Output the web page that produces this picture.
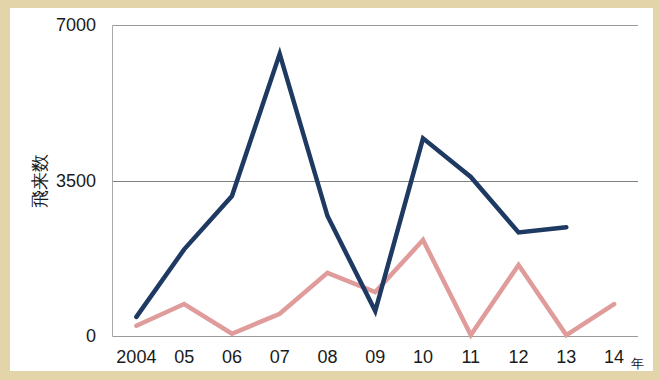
<!DOCTYPE html>
<html>
<head>
<meta charset="utf-8">
<script src="https://cdn.jsdelivr.net/npm/d3@7"></script>
<style>
  html, body { margin: 0; padding: 0; background: #e3d5a9; }
  svg { display: block; }
  text { font-family: "Liberation Sans", Arial, sans-serif; fill: #1a1a1a; }
</style>
</head>
<body>
<div id="chart"></div>
<script>
const years = ["2004", "05", "06", "07", "08", "09", "10", "11", "12", "13", "14"];
const seriesNavy = [430, 1950, 3150, 6350, 2700, 560, 4450, 3580, 2330, 2450, null];
const seriesPink = [230, 720, 50, 500, 1420, 990, 2160, 20, 1600, 20, 720];
const yTicks = [0, 3500, 7000];

const w = 660;
const h = 380;
const plot = { left: 112.5, right: 638, top: 25, bottom: 336 };

const svg = d3
  .select("#chart")
  .append("svg")
  .attr("width", w)
  .attr("height", h);

svg
  .append("rect")
  .attr("x", 10)
  .attr("y", 8)
  .attr("width", 643)
  .attr("height", 363)
  .attr("fill", "white");

const xScale = d3
  .scaleBand()
  .domain(years)
  .range([plot.left, plot.right])
  .padding(0);

const yScale = d3
  .scaleLinear()
  .domain([0, 7000])
  .range([plot.bottom, plot.top]);

const cx = (d) => xScale(d) + xScale.bandwidth() / 2;

// gridlines
svg
  .selectAll("line.grid")
  .data(yTicks)
  .enter()
  .append("line")
  .attr("class", "grid")
  .attr("x1", plot.left)
  .attr("x2", plot.right)
  .attr("y1", (d) => Math.round(yScale(d)) + 0.5)
  .attr("y2", (d) => Math.round(yScale(d)) + 0.5)
  .attr("stroke", (d) => (d === 3500 ? "#808080" : "#9a9a9a"))
  .attr("stroke-width", 1);

// left axis line
svg
  .append("line")
  .attr("x1", plot.left)
  .attr("x2", plot.left)
  .attr("y1", Math.round(yScale(7000)) + 0.5)
  .attr("y2", Math.round(yScale(0)) + 0.5)
  .attr("stroke", "#aaaaaa")
  .attr("stroke-width", 1);

// y tick labels
svg
  .selectAll("text.ytick")
  .data(yTicks)
  .enter()
  .append("text")
  .attr("class", "ytick")
  .attr("x", 96)
  .attr("y", (d) => yScale(d))
  .attr("dy", "0.35em")
  .attr("text-anchor", "end")
  .attr("font-size", 18)
  .text((d) => d);

// x tick labels
svg
  .selectAll("text.xtick")
  .data(years)
  .enter()
  .append("text")
  .attr("class", "xtick")
  .attr("x", cx)
  .attr("y", 363)
  .attr("text-anchor", "middle")
  .attr("font-size", 18)
  .text((d) => d);

// unit
svg
  .append("text")
  .attr("x", 637)
  .attr("y", 368)
  .attr("text-anchor", "middle")
  .attr("font-size", 13)
  .attr("font-family", "Noto Sans CJK JP")
  .text("年");

// y label
svg
  .append("text")
  .attr("transform", "translate(46,181) rotate(-90)")
  .attr("text-anchor", "middle")
  .attr("font-size", 18)
  .attr("font-family", "Noto Sans CJK JP")
  .text("飛来数");

const line = d3
  .line()
  .defined((d) => d.v !== null)
  .x((d) => cx(d.year))
  .y((d) => yScale(d.v));

svg
  .append("path")
  .datum(years.map((y, i) => ({ year: y, v: seriesPink[i] })))
  .attr("d", line)
  .attr("fill", "none")
  .attr("stroke", "#df9c9b")
  .attr("stroke-width", 4.5)
  .attr("stroke-linejoin", "miter")
  .attr("stroke-linecap", "round");

svg
  .append("path")
  .datum(years.map((y, i) => ({ year: y, v: seriesNavy[i] })))
  .attr("d", line)
  .attr("fill", "none")
  .attr("stroke", "#1e3a62")
  .attr("stroke-width", 4.5)
  .attr("stroke-linejoin", "miter")
  .attr("stroke-linecap", "round");
</script>
</body>
</html>
